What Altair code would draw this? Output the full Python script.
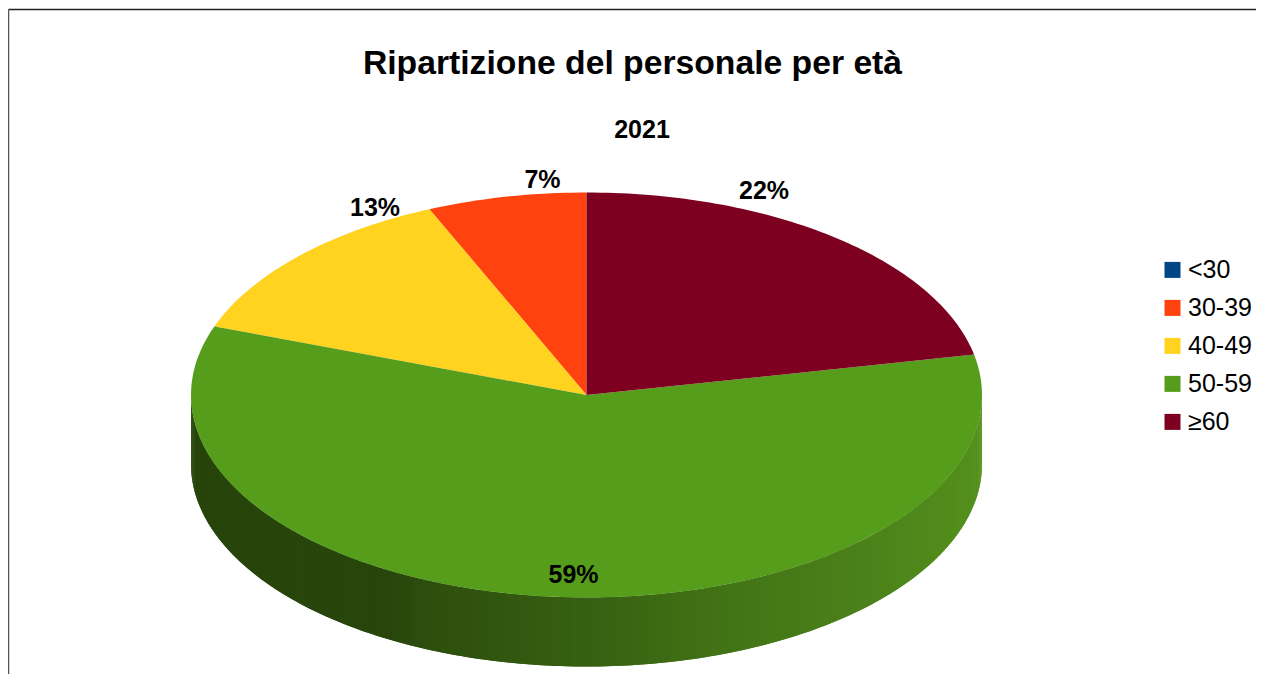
import math
import altair as alt

categories = ["<30", "30-39", "40-49", "50-59", "≥60"]
shares = [0.0, 6.5, 13.0, 58.7, 21.8]
labels = ["", "7%", "13%", "59%", "22%"]
colors = ["#004586", "#ff420e", "#ffd320", "#579d1c", "#7e0021"]
title_text = "Ripartizione del personale per età"
subtitle_text = "2021"

# side-wall shading: horizontal position on the pie (0 = left, 1 = right) -> colour
wall_stops = [0.0, 0.25, 0.30, 0.49, 0.68, 0.85, 1.0]
wall_colors = ["#27440b", "#28460c", "#2d4f0e", "#365f11", "#427416", "#4b811a", "#54911c"]

# pie geometry in chart pixels (page margin is 8)
CX, CY, RX, RY, DEPTH = 578.5, 387.0, 395.5, 202.5, 69.0
W, H = 1248, 666


def pt(deg):
    """deg clockwise from 12 o'clock -> point on the tilted disc"""
    a = math.radians(deg)
    return [CX + RX * math.sin(a), CY - RY * math.cos(a)]


# top face wedges, going counter-clockwise from 12 o'clock in legend order
wedges = []
start = 0.0
for cat, s in zip(categories, shares):
    end = start - s * 3.6
    n = max(2, int(abs(end - start)))
    ring = [pt(start + (end - start) * i / n) for i in range(n + 1)]
    wedges.append({
        "type": "Feature",
        "properties": {"category": cat},
        "geometry": {"type": "Polygon", "coordinates": [[[CX, CY]] + ring + [[CX, CY]]]},
    })
    start = end

# side wall as thin strips along the lower half of the rim, drawn right to left
strips = []
N = 360
for i in range(N):
    a0 = 90 + 180 * i / N
    a1 = min(90 + 180 * (i + 2.0) / N, 270)
    p0, p1 = pt(a0), pt(a1)
    mid = pt(90 + 180 * (i + 0.5) / N)
    pos = (mid[0] - (CX - RX)) / (2 * RX)
    strips.append({
        "type": "Feature",
        "properties": {"pos": pos},
        "geometry": {"type": "Polygon", "coordinates": [[
            p0, p1, [p1[0], p1[1] + DEPTH], [p0[0], p0[1] + DEPTH], p0
        ]]},
    })

proj = alt.Projection(type="identity", scale=1, translate=[0, 0])

wall = alt.Chart(alt.Data(values=strips)).mark_geoshape(strokeWidth=0).encode(
    color=alt.Color("properties.pos:Q", legend=None,
                    scale=alt.Scale(domain=wall_stops, range=wall_colors))
).project(**proj.to_dict())

top = alt.Chart(alt.Data(values=wedges)).mark_geoshape(strokeWidth=0).encode(
    color=alt.Color(
        "properties.category:N",
        scale=alt.Scale(domain=categories, range=colors),
        legend=alt.Legend(
            title=None, orient="none", legendX=1152, legendY=249.4,
            symbolType="square", symbolSize=256, symbolStrokeWidth=0,
            labelFontSize=25, labelFont="Liberation Sans", labelColor="#000000",
            labelOffset=3, rowPadding=12, labelLimit=200, symbolOpacity=1,
        ),
    )
).project(**proj.to_dict())


def text(s, x, y, size):
    return alt.Chart(alt.Data(values=[{"t": s}])).mark_text(
        font="Liberation Sans", fontWeight="bold", fontSize=size, color="#000000",
        align="center", baseline="alphabetic",
    ).encode(text="t:N", x=alt.value(x), y=alt.value(y))


def rule(x, x2, y, y2, c):
    return alt.Chart(alt.Data(values=[{"a": 0}])).mark_rule(color=c, strokeWidth=1.5).encode(
        x=alt.value(x), x2=alt.value(x2), y=alt.value(y), y2=alt.value(y2)
    )


layers = [
    rule(0.5, W, 1.5, 1.5, "#222222"),
    rule(0.5, 0.5, 1.5, H, "#555555"),
    wall,
    top,
    text(title_text, 624.5, 66, 33.7),
    text(subtitle_text, 634, 130, 25),
    text(labels[1], 534.5, 179.5, 25),
    text(labels[2], 367, 207.5, 25),
    text(labels[3], 565.5, 575, 25),
    text(labels[4], 756, 190.5, 25),
]

chart = alt.layer(*layers).resolve_scale(color="independent").properties(
    width=W, height=H, padding=0, autosize=alt.AutoSizeParams(type="none"),
    background="#ffffff",
).configure_view(stroke=None)

chart.save("out.html", embed_options={"renderer": "svg", "actions": False})
